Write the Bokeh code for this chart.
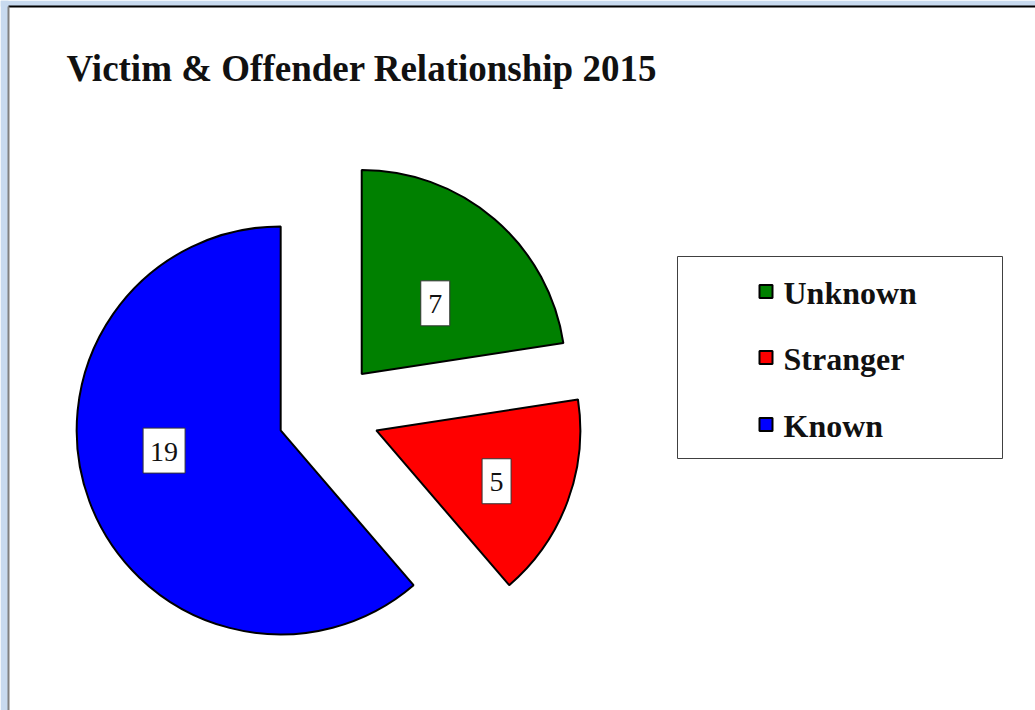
import math
from bokeh.plotting import figure
from bokeh.models import Range1d
from bokeh.core.properties import value
from bokeh.embed import file_html
from bokeh.resources import INLINE

# ---- data ----
title_text = "Victim & Offender Relationship 2015"
categories = ["Unknown", "Stranger", "Known"]
counts = [7, 5, 19]
colors = ["#008000", "#FF0000", "#0000FF"]

# ---- layout constants (pixels, y measured upward) ----
W, H = 1035, 710
CX, CY = 328.0, 297.8      # pie centre
R = 204.0                  # radius
EXPLODE = 51.0             # explode distance
LABEL_R = [0.50, 0.64, 0.58]
LABEL_ADJ = [-5.5, -2.6, -10.5]   # degrees
FONT = "Liberation Serif"

p = figure(width=W, height=H, x_range=Range1d(0, W), y_range=Range1d(0, H),
           x_axis_type=None, y_axis_type=None, toolbar_location=None,
           output_backend="svg", min_border=0)
p.grid.visible = False
p.outline_line_color = None
p.background_fill_color = "white"
p.border_fill_color = "white"

# surrounding light-blue window strip and chart-area edges
p.quad(left=[0, 0], right=[8, W], bottom=[0, H - 6], top=[H, H],
       fill_color="#c8daef", line_color=None)
p.segment(x0=[8], y0=[H - 6], x1=[W], y1=[H - 6], line_color="black", line_width=2)
p.segment(x0=[8], y0=[0], x1=[8], y1=[H - 6], line_color="#808080", line_width=2)

total = float(sum(counts))
cum = 0.0
xs, ys, sa, ea, lx, ly = [], [], [], [], [], []
for i, v in enumerate(counts):
    f0 = cum / total
    f1 = (cum + v) / total
    cum += v
    a_start = math.radians(90 - 360 * f1)
    a_end = math.radians(90 - 360 * f0)
    mid = (a_start + a_end) / 2
    cx = CX + EXPLODE * math.cos(mid)
    cy = CY + EXPLODE * math.sin(mid)
    xs.append(cx); ys.append(cy); sa.append(a_start); ea.append(a_end)
    la = mid + math.radians(LABEL_ADJ[i])
    lx.append(cx + LABEL_R[i] * R * math.cos(la))
    ly.append(cy + LABEL_R[i] * R * math.sin(la))

p.wedge(x=xs, y=ys, radius=R, start_angle=sa, end_angle=ea, direction="anticlock",
        fill_color=colors, line_color="black", line_width=2)

labels = [str(c) for c in counts]
box_w = [16 + 13 * len(t) for t in labels]
p.rect(x=lx, y=ly, width=box_w, height=45, width_units="screen", height_units="screen",
       fill_color="white", line_color="#333333", line_width=1)
p.text(x=lx, y=[v - 1 for v in ly], text=labels, text_font=value(FONT),
       text_font_size="28px", text_color="#111111", text_align="center",
       text_baseline="middle")

# title
p.text(x=[66], y=[H - 68], text=[title_text], text_font=value(FONT),
       text_font_style="bold", text_font_size="37px", text_color="#111111",
       text_align="left", text_baseline="alphabetic")

# legend (manual)
LX0, LX1, LY0, LY1 = 677, 1002, H - 458, H - 256
p.quad(left=[LX0], right=[LX1], bottom=[LY0], top=[LY1], fill_color="white",
       line_color="#404040", line_width=1)
rows_y = [H - 291, H - 357, H - 424]
p.scatter(x=[765.5] * 3, y=rows_y, marker="square", size=13, fill_color=colors,
          line_color="black", line_width=2)
p.text(x=[783] * 3, y=[v - 1 for v in rows_y], text=categories, text_font=value(FONT),
       text_font_style="bold", text_font_size="32px", text_color="#111111",
       text_align="left", text_baseline="middle")

open("out.html", "w").write(file_html(p, INLINE))
